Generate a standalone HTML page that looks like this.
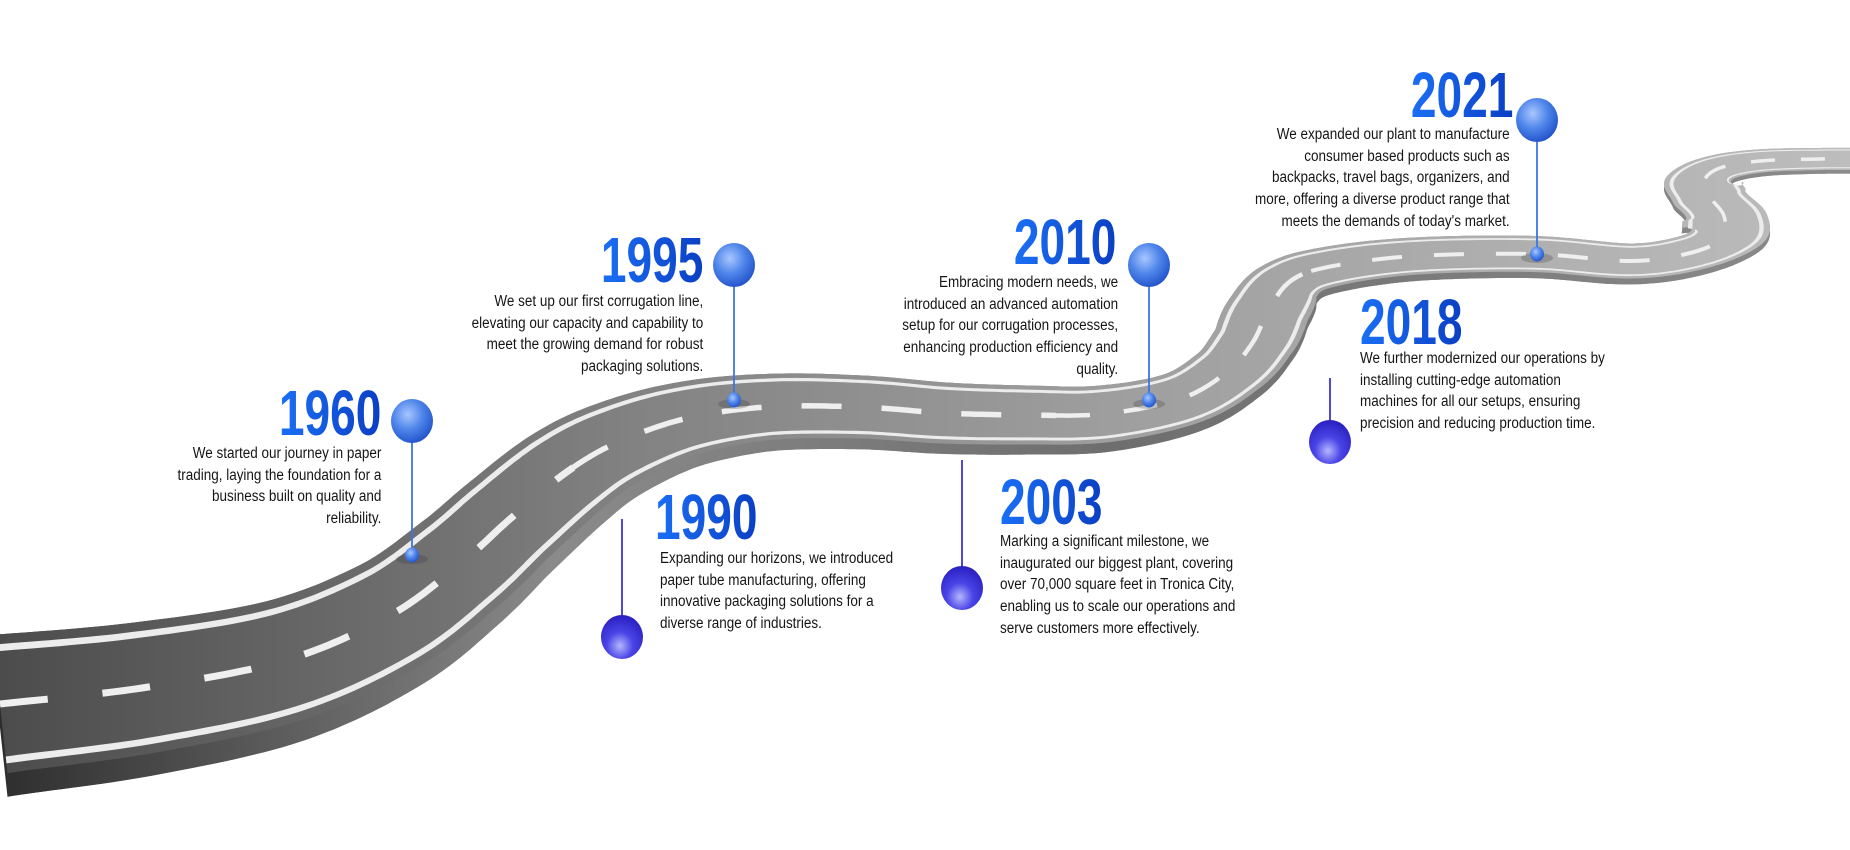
<!DOCTYPE html>
<html><head><meta charset="utf-8">
<style>
html,body{margin:0;padding:0;background:#fff;}
#wrap{position:relative;width:1850px;height:850px;overflow:hidden;background:#fff;}
svg{position:absolute;left:0;top:0;}
.yr{position:absolute;font-family:"Liberation Sans Narrow","Liberation Sans",sans-serif;font-weight:bold;font-size:64px;line-height:64px;white-space:nowrap;
background:linear-gradient(90deg,#1a6ff5,#0b3fc4);-webkit-background-clip:text;background-clip:text;color:transparent;}
.yr.r{transform:scaleX(0.72);transform-origin:right top;}
.yr.l{transform:scaleX(0.72);transform-origin:left top;}
.tx{position:absolute;font-family:"Liberation Sans Narrow","Liberation Sans",sans-serif;font-size:15.5px;line-height:21.7px;color:#151515;white-space:nowrap;}
.tx.r{text-align:right;transform:scaleX(0.87);transform-origin:right top;}
.tx.l{transform:scaleX(0.87);transform-origin:left top;}
</style></head><body>
<div id="wrap">
<svg id="road" width="1850" height="850" viewBox="0 0 1850 850">
<defs>
<linearGradient id="surf" x1="0" y1="0" x2="1850" y2="0" gradientUnits="userSpaceOnUse">
<stop offset="0" stop-color="#4c4c4c"/><stop offset="0.35" stop-color="#838383"/><stop offset="0.6" stop-color="#9e9e9e"/><stop offset="1" stop-color="#bdbdbd"/></linearGradient>
<linearGradient id="side" x1="0" y1="0" x2="1850" y2="0" gradientUnits="userSpaceOnUse">
<stop offset="0" stop-color="#2e2e2e"/><stop offset="0.3" stop-color="#8a8a8a"/><stop offset="0.6" stop-color="#6e6e6e"/><stop offset="1" stop-color="#8c8c8c"/></linearGradient>
<radialGradient id="bb" cx="0.4" cy="0.35" r="0.7"><stop offset="0" stop-color="#a9c6ff"/><stop offset="0.5" stop-color="#4f86ea"/><stop offset="1" stop-color="#1f4fc8"/></radialGradient>
<radialGradient id="bp" cx="0.45" cy="0.7" r="0.7"><stop offset="0" stop-color="#b4b6ff"/><stop offset="0.45" stop-color="#4a44e6"/><stop offset="1" stop-color="#2a1fc0"/></radialGradient>
</defs>
<g id="rg"></g>
<g id="pins"></g>
</svg>

<div class="yr r" style="right:1469px;top:381px;">1960</div>
<div class="tx r" style="right:1469px;top:443px;">We started our journey in paper<br>trading, laying the foundation for a<br>business built on quality and<br>reliability.</div>

<div class="yr l" style="left:655px;top:485px;">1990</div>
<div class="tx l" style="left:660px;top:548px;">Expanding our horizons, we introduced<br>paper tube manufacturing, offering<br>innovative packaging solutions for a<br>diverse range of industries.</div>

<div class="yr r" style="right:1147px;top:228px;">1995</div>
<div class="tx r" style="right:1147px;top:291px;">We set up our first corrugation line,<br>elevating our capacity and capability to<br>meet the growing demand for robust<br>packaging solutions.</div>

<div class="yr l" style="left:1000px;top:470px;">2003</div>
<div class="tx l" style="left:1000px;top:531px;">Marking a significant milestone, we<br>inaugurated our biggest plant, covering<br>over 70,000 square feet in Tronica City,<br>enabling us to scale our operations and<br>serve customers more effectively.</div>

<div class="yr r" style="right:734px;top:210px;">2010</div>
<div class="tx r" style="right:732px;top:272px;">Embracing modern needs, we<br>introduced an advanced automation<br>setup for our corrugation processes,<br>enhancing production efficiency and<br>quality.</div>

<div class="yr l" style="left:1360px;top:290px;">2018</div>
<div class="tx l" style="left:1360px;top:348px;">We further modernized our operations by<br>installing cutting-edge automation<br>machines for all our setups, ensuring<br>precision and reducing production time.</div>

<div class="yr r" style="right:337px;top:63px;">2021</div>
<div class="tx r" style="right:340px;top:124px;">We expanded our plant to manufacture<br>consumer based products such as<br>backpacks, travel bags, organizers, and<br>more, offering a diverse product range that<br>meets the demands of today's market.</div>
</div>

<script>
(function(){
var P=[[0,704,139,1],[142,688,132,1],[283,661,124,1],[389,616,116,1.05],[460,564,109,1.1],[510,519,100,1.2],[564,474,92,1.3],[614,444,83,1.4],[684,419,73,1.5],[767,407,66,1.6],[861,407,63,1.6],[944,413,61,1.6],[1027,415,59,1.6],[1103,414,57,1.6],[1180,399,53,1.7],[1227,372,50,1.8],[1253,342,47,1.9],[1269,309,45,2],[1292,280,41,2.1],[1333,266,39,2.2],[1416,256,37,2.4],[1534,254,36,2.5],[1630,261,35,2.6],[1690,253,34,2.7],[1722,238,32,2.8],[1724,216,31,2.8],[1710,197,30,2.8],[1704,181,28,2.8],[1720,168,25,2.8],[1760,161,23,2.8],[1820,159,22,2.8],[1880,159,22,2.8]];
P.unshift([P[0][0]-40,P[0][1]+5,P[0][2],P[0][3]]);
var last=P[P.length-1];P.push([last[0]+40,last[1],last[2],last[3]]);
var pts=[];
function cr(a,b,c,d,t){var t2=t*t,t3=t2*t;return 0.5*((2*b)+(-a+c)*t+(2*a-5*b+4*c-d)*t2+(-a+3*b-3*c+d)*t3);}
for(var i=1;i<P.length-2;i++){
 for(var k=0;k<16;k++){var t=k/16;
  pts.push([cr(P[i-1][0],P[i][0],P[i+1][0],P[i+2][0],t),cr(P[i-1][1],P[i][1],P[i+1][1],P[i+2][1],t),P[i][2]+(P[i+1][2]-P[i][2])*t,P[i][3]+(P[i+1][3]-P[i][3])*t]);}
}
var q0=P[P.length-2];pts.push([q0[0],q0[1],q0[2],q0[3]]);
var n=pts.length,nx=[],ny=[];
for(var i=0;i<n;i++){var a=pts[Math.max(0,i-2)],b=pts[Math.min(n-1,i+2)];var dx=b[0]-a[0],dy=b[1]-a[1],L=Math.hypot(dx,dy)||1;nx.push(-dy/L);ny.push(dx/L);}
function off(f,dyf){var r=[];for(var i=0;i<n;i++){var w=pts[i][2]/2;r.push([pts[i][0]+nx[i]*w*f*pts[i][3],pts[i][1]+ny[i]*w*f+(dyf?pts[i][2]*dyf:0)]);}return r;}
function poly(a,b,fill){var s=a.map(function(p){return p[0].toFixed(1)+','+p[1].toFixed(1);}).concat(b.slice().reverse().map(function(p){return p[0].toFixed(1)+','+p[1].toFixed(1);})).join(' ');return '<polygon points="'+s+'" fill="'+fill+'"/>';}
var g='';
g+=poly(off(1,0),off(1,0.17),'url(#side)');
g+=poly(off(-1,0),off(-1,0.17),'url(#side)');
g+=poly(off(-1,0.17),off(1,0.17),'url(#side)');
g+=poly(off(-1,0),off(1,0),'url(#surf)');
g+=poly(off(-0.86,0),off(-0.76,0),'#ececec');
g+=poly(off(0.76,0),off(0.86,0),'#ececec');
function seg(a,b,w,da){var s='';for(var i=a;i<=b&&i<n;i++){s+=(i==a?'M':'L')+pts[i][0].toFixed(1)+' '+pts[i][1].toFixed(1);}return '<path d="'+s+'" fill="none" stroke="#efefef" stroke-width="'+w+'" stroke-dasharray="'+da+'"/>';}
var q=Math.floor(n/5);
g+=seg(0,q,7,'48 55');g+=seg(q,2*q,5.5,'40 40');g+=seg(2*q,3*q,4.5,'34 34');g+=seg(3*q,4*q,4,'30 32');g+=seg(4*q,n-1,3.5,'24 26');
document.getElementById('rg').innerHTML=g;
var pins=[[412,421,555,'bb',1],[734,265,400,'bb',1],[1149,265,400,'bb',1],[1537,120,254,'bb',1],[622,519,637,'bp',0],[962,460,588,'bp',0],[1330,378,442,'bp',0]];
var h='';
pins.forEach(function(p){
 if(p[4]){h+='<line x1="'+p[0]+'" y1="'+p[1]+'" x2="'+p[0]+'" y2="'+p[2]+'" stroke="#3d74e6" stroke-width="1.8"/>';
  h+='<ellipse cx="'+p[0]+'" cy="'+(p[2]+4)+'" rx="16" ry="5" fill="#333" opacity="0.25"/>';
  h+='<ellipse cx="'+p[0]+'" cy="'+p[1]+'" rx="21" ry="22" fill="url(#'+p[3]+')"/>';
  h+='<ellipse cx="'+p[0]+'" cy="'+p[2]+'" rx="7" ry="7.5" fill="url(#'+p[3]+')"/>';}
 else{h+='<line x1="'+p[0]+'" y1="'+p[1]+'" x2="'+p[0]+'" y2="'+p[2]+'" stroke="#3a33d6" stroke-width="1.8"/>';
  h+='<ellipse cx="'+p[0]+'" cy="'+p[2]+'" rx="21" ry="22" fill="url(#'+p[3]+')"/>';}
});
document.getElementById('pins').innerHTML=h;
})();
</script>
</body></html>
